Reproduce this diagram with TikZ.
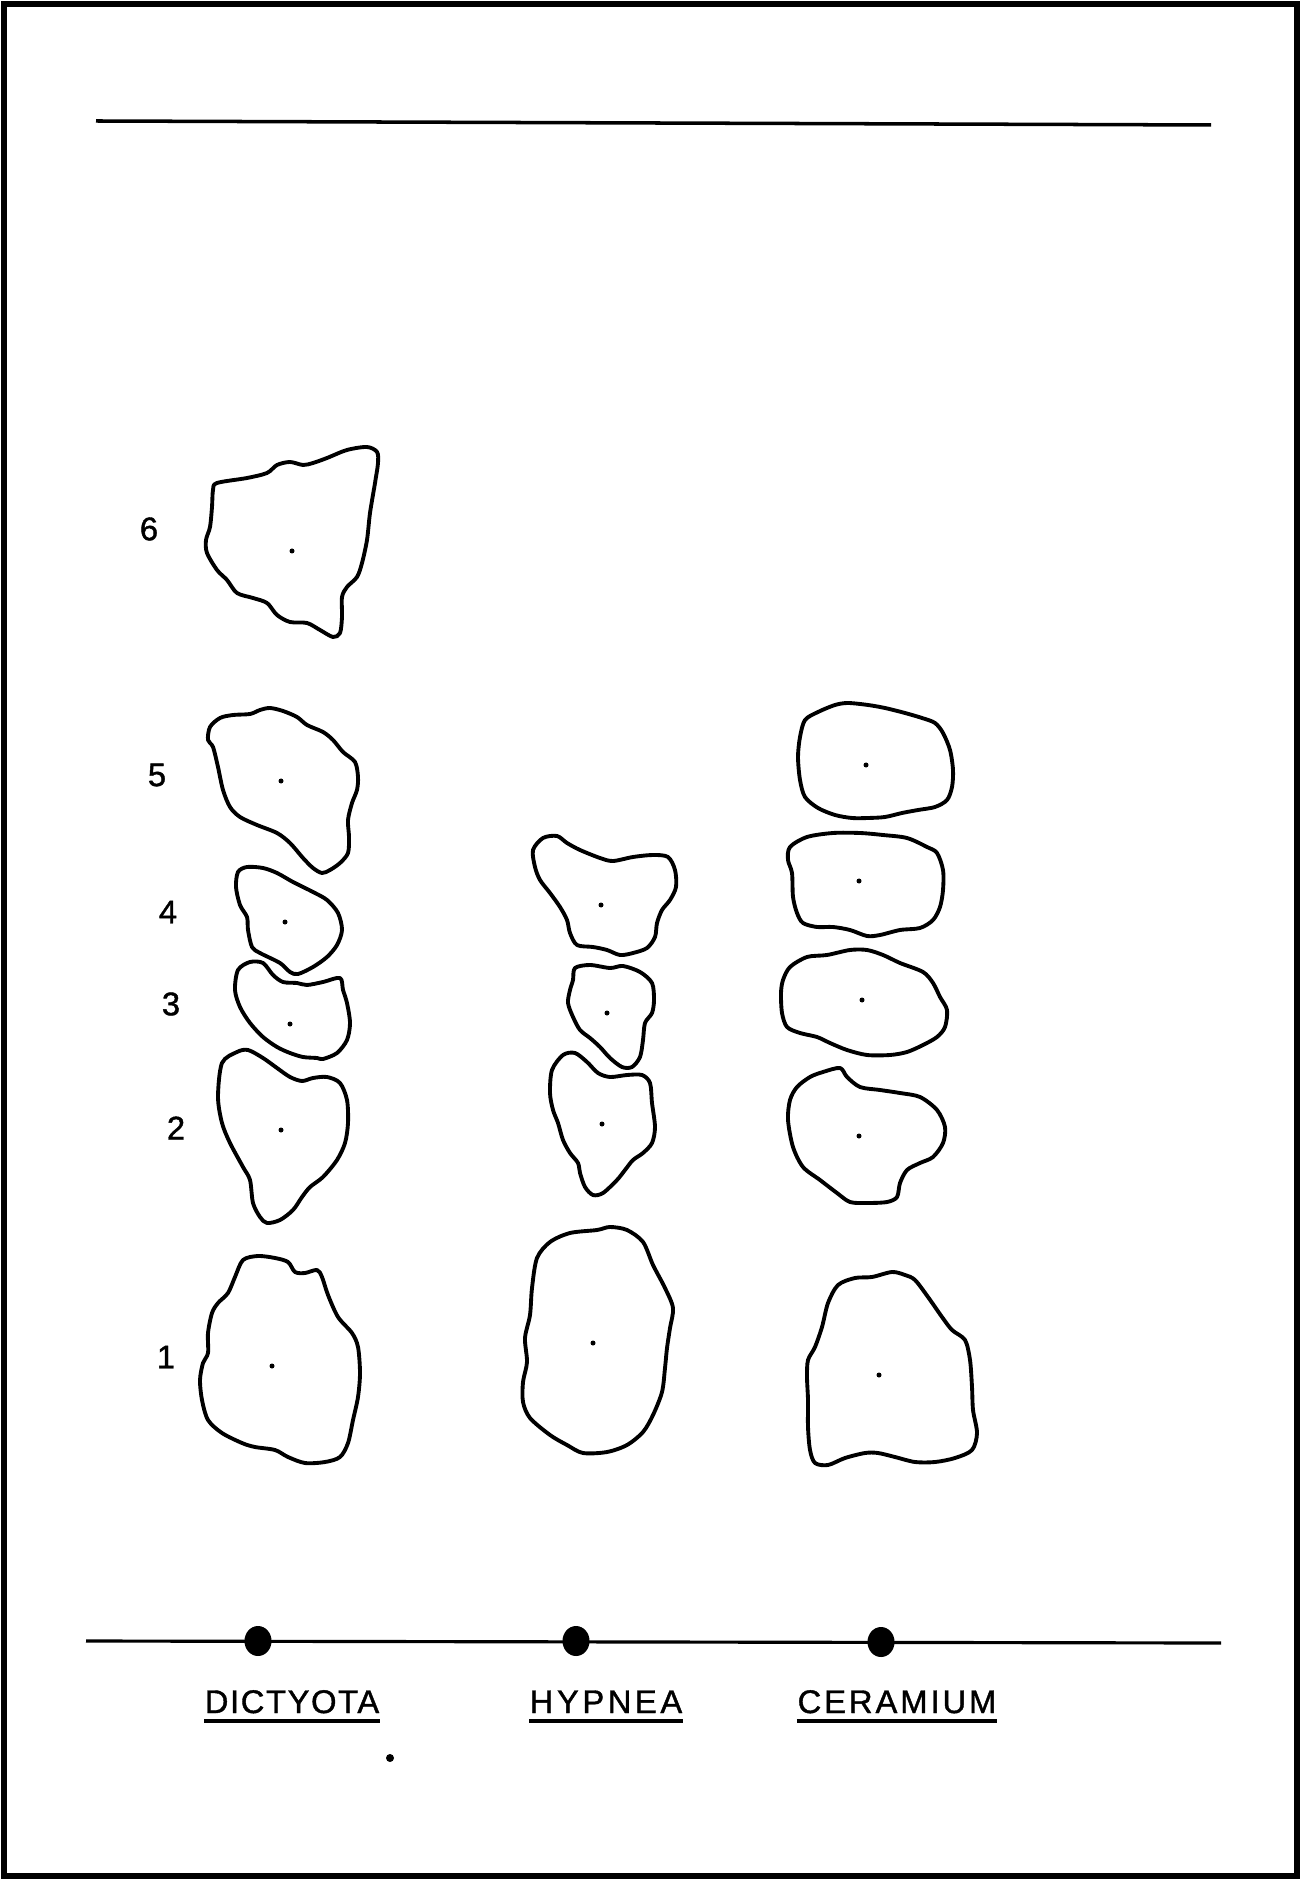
\documentclass[tikz,border=0pt]{standalone}
\usepackage{fontspec}
\newfontfamily\platefont[FakeBold=1.2]{Liberation Sans}
\usetikzlibrary{positioning,calc,shapes.geometric}

\begin{document}
\begin{tikzpicture}[
    x=0.01cm, y=-0.01cm,
    spot/.style={line width=1.1pt, line join=round},
    rf/.style={fill, circle, inner sep=0pt, minimum size=0.05cm},
    origin/.style={fill, ellipse, inner sep=0pt, minimum width=0.27cm, minimum height=0.30cm},
    lbl/.style={font=\platefont\fontsize{9.3}{11}\selectfont, inner sep=0pt, anchor=base},
    num/.style={font=\platefont\fontsize{9.3}{11}\selectfont, inner sep=0pt}
]
    \useasboundingbox (0,0) rectangle (1301,1880);

    % plate
    \draw[line width=1.5pt] (4,4) rectangle (1297,1876);

    \coordinate (frontL) at (96,121);
    \coordinate (frontR) at (1211,125);
    \draw[line width=1pt] (frontL) -- (frontR);

    \coordinate (startL) at (86,1641);
    \coordinate (startR) at (1221,1643);
    \draw[line width=0.9pt] (startL) -- (startR);

    % application points
    \node[origin] (oDict) at (258,1641) {};
    \node[origin] (oHyp)  at (576,1641) {};
    \node[origin] (oCer)  at (881,1642) {};

    % sample names
    \node[lbl] (nDict) at (292,1713) {\addfontfeature{LetterSpace=5}DICTYOTA};
    \node[lbl] (nHyp)  at (606,1713) {\addfontfeature{LetterSpace=11}HYPNEA};
    \node[lbl] (nCer)  at (897,1713) {\addfontfeature{LetterSpace=9}CERAMIUM};
    \foreach \n in {nDict,nHyp,nCer}
        \draw[line width=1pt] ($(\n.base west)+(0,8)$) -- ($(\n.base east)+(0,8)$);

    \node[fill, circle, inner sep=0pt, minimum size=0.08cm] (speck) at (390,1758) {};

    % spot numbers
    \node[num] (n6) at (149,529)  {6};
    \node[num] (n5) at (157,775)  {5};
    \node[num] (n4) at (168,912)  {4};
    \node[num] (n3) at (171,1004) {3};
    \node[num] (n2) at (176,1128) {2};
    \node[num] (n1) at (166,1357) {1};

    % Dictyota
    \draw[spot] plot[smooth cycle] coordinates {(217,483) (247,478) (267,473) (277,465) (290,462) (303,465) (313,463) (327,458) (347,450) (367,447) (377,452) (378,463) (375,483) (370,513) (367,540) (362,563) (357,577) (347,587) (342,597) (342,617) (340,633) (333,637) (320,630) (307,623) (290,622) (277,615) (267,603) (253,598) (237,593) (227,580) (217,570) (207,553) (206,540) (210,527) (212,507) (213,490)};
    \node[rf] (d6) at (292,551) {};

    \draw[spot] plot[smooth cycle] coordinates {(210,727) (220,718) (233,715) (250,714) (260,710) (270,708) (283,711) (297,717) (307,725) (323,732) (333,740) (343,752) (355,762) (358,777) (357,790) (352,803) (348,820) (349,837) (348,853) (340,863) (330,870) (322,873) (313,868) (303,858) (290,843) (277,833) (257,825) (240,817) (230,807) (223,790) (218,767) (213,747) (208,740)};
    \node[rf] (d5) at (281,781) {};

    \draw[spot] plot[smooth cycle] coordinates {(238,872) (247,867) (263,868) (277,873) (293,882) (313,892) (327,900) (338,913) (342,930) (337,945) (327,957) (313,967) (298,974) (290,972) (280,963) (260,953) (252,947) (248,930) (247,917) (240,905) (236,887)};
    \node[rf] (d4) at (285,922) {};

    \draw[spot] plot[smooth cycle] coordinates {(238,970) (250,962) (263,963) (273,975) (283,982) (297,983) (307,985) (323,982) (340,978) (343,990) (347,1003) (350,1023) (347,1040) (337,1053) (323,1059) (317,1058) (303,1057) (290,1053) (277,1047) (263,1037) (250,1023) (240,1007) (235,990)};
    \node[rf] (d3) at (290,1024) {};

    \draw[spot] plot[smooth cycle] coordinates {(222,1063) (237,1052) (248,1050) (263,1058) (277,1068) (290,1077) (302,1081) (313,1078) (327,1077) (340,1083) (347,1100) (348,1123) (345,1143) (337,1160) (323,1177) (310,1187) (302,1197) (293,1210) (280,1220) (267,1223) (260,1217) (253,1203) (250,1180) (243,1167) (230,1143) (222,1123) (218,1097)};
    \node[rf] (d2) at (281,1130) {};

    \draw[spot] plot[smooth cycle] coordinates {(243,1260) (258,1256) (275,1258) (288,1262) (295,1272) (305,1273) (317,1270) (322,1277) (328,1295) (338,1317) (352,1333) (358,1347) (360,1373) (358,1397) (353,1420) (348,1443) (340,1457) (325,1462) (305,1463) (288,1457) (275,1450) (255,1447) (242,1443) (222,1433) (208,1420) (202,1400) (200,1380) (203,1363) (208,1353) (208,1333) (212,1313) (218,1303) (228,1293) (235,1277)};
    \node[rf] (d1) at (272,1366) {};

    % Hypnea
    \draw[spot] plot[smooth cycle] coordinates {(533,850) (543,838) (557,836) (567,843) (580,850) (600,858) (613,861) (633,857) (653,855) (668,857) (675,870) (676,887) (670,900) (662,910) (657,923) (655,937) (647,948) (633,953) (620,955) (607,950) (593,947) (577,945) (570,933) (567,920) (560,907) (550,893) (540,880) (535,867)};
    \node[rf] (h4) at (601,905) {};

    \draw[spot] plot[smooth cycle] coordinates {(575,968) (590,965) (610,968) (623,966) (640,972) (652,983) (654,1000) (652,1013) (645,1023) (643,1040) (640,1057) (632,1067) (622,1067) (610,1058) (600,1047) (590,1038) (580,1030) (573,1017) (568,1003) (570,990) (573,980)};
    \node[rf] (h3) at (607,1013) {};

    \draw[spot] plot[smooth cycle] coordinates {(552,1070) (563,1055) (575,1053) (587,1062) (598,1073) (610,1077) (627,1075) (642,1075) (650,1083) (652,1103) (655,1127) (652,1143) (643,1153) (633,1160) (625,1170) (617,1180) (603,1193) (593,1195) (585,1187) (580,1173) (578,1163) (570,1153) (563,1140) (558,1123) (553,1110) (550,1093)};
    \node[rf] (h2) at (602,1124) {};

    \draw[spot] plot[smooth cycle] coordinates {(537,1258) (550,1242) (570,1233) (597,1230) (610,1227) (627,1230) (643,1242) (653,1265) (665,1288) (673,1308) (670,1328) (667,1348) (665,1368) (662,1392) (653,1415) (643,1432) (627,1445) (607,1452) (583,1453) (567,1445) (550,1435) (530,1418) (523,1402) (523,1382) (527,1362) (525,1338) (530,1315) (532,1288)};
    \node[rf] (h1) at (593,1343) {};

    % Ceramium
    \draw[spot] plot[smooth cycle] coordinates {(805,720) (818,712) (835,705) (848,703) (868,705) (885,708) (905,713) (922,718) (935,723) (943,733) (950,750) (953,770) (952,787) (947,800) (935,807) (918,810) (902,813) (885,817) (868,818) (852,818) (835,815) (818,808) (805,797) (800,780) (798,757) (800,737)};
    \node[rf] (c5) at (866,765) {};

    \draw[spot] plot[smooth cycle] coordinates {(790,847) (807,837) (833,833) (860,833) (883,835) (907,838) (927,847) (937,853) (943,870) (943,890) (940,907) (933,920) (920,928) (900,930) (880,935) (867,936) (850,930) (833,927) (817,927) (803,923) (797,913) (793,897) (792,873) (788,860)};
    \node[rf] (c4) at (859,881) {};

    \draw[spot] plot[smooth cycle] coordinates {(783,980) (790,967) (807,957) (827,955) (850,950) (867,950) (883,955) (900,963) (923,972) (933,983) (940,997) (947,1010) (945,1027) (937,1037) (923,1045) (907,1052) (890,1055) (867,1055) (847,1050) (830,1043) (817,1037) (800,1033) (787,1027) (782,1013) (781,993)};
    \node[rf] (c3) at (862,1000) {};

    \draw[spot] plot[smooth cycle] coordinates {(790,1100) (797,1087) (810,1077) (823,1072) (840,1068) (847,1077) (860,1087) (880,1090) (900,1093) (920,1097) (937,1110) (945,1127) (943,1143) (933,1157) (920,1163) (907,1170) (900,1183) (897,1197) (887,1202) (867,1203) (850,1202) (837,1193) (820,1180) (803,1167) (793,1147) (788,1120)};
    \node[rf] (c2) at (859,1136) {};

    \draw[spot] plot[smooth cycle] coordinates {(815,1347) (822,1327) (828,1303) (838,1285) (855,1278) (872,1277) (892,1272) (905,1275) (915,1280) (928,1297) (942,1317) (952,1330) (965,1340) (970,1360) (972,1387) (973,1410) (977,1433) (972,1450) (955,1458) (935,1462) (915,1462) (895,1457) (878,1453) (865,1453) (845,1458) (828,1465) (815,1463) (810,1450) (808,1427) (808,1400) (807,1377) (808,1360)};
    \node[rf] (c1) at (879,1375) {};

\end{tikzpicture}
\end{document}
